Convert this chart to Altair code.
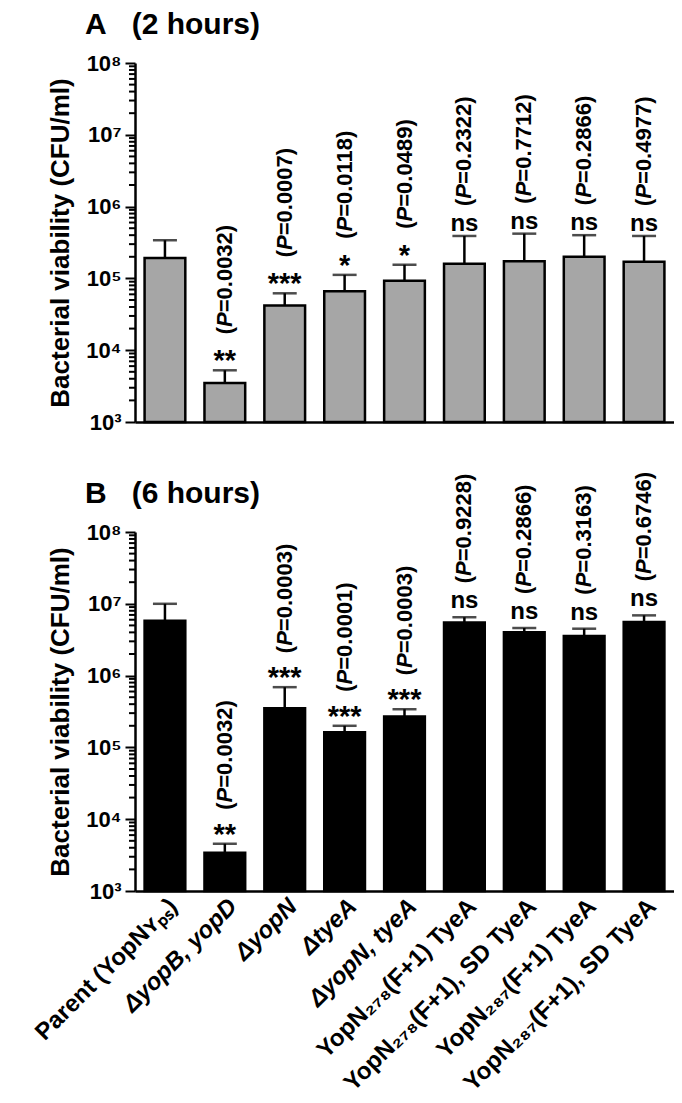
import altair as alt
import pandas as pd

strains = [
    "Parent (YopNʏₚₛ)", "ΔyopB, yopD", "ΔyopN", "ΔtyeA", "ΔyopN, tyeA",
    "YopN₂₇₈(F+1) TyeA", "YopN₂₇₈(F+1), SD TyeA",
    "YopN₂₈₇(F+1) TyeA", "YopN₂₈₇(F+1), SD TyeA",
]

mean_2h = [1.92e5, 3.5e3, 4.2e4, 6.6e4, 9.3e4, 1.6e5, 1.74e5, 2.0e5, 1.7e5]
upper_2h = [3.4e5, 5.25e3, 6.2e4, 1.12e5, 1.55e5, 3.9e5, 4.2e5, 4.0e5, 3.9e5]
sig_2h = ["", "**", "***", "*", "*", "ns", "ns", "ns", "ns"]
p_2h = ["", "(P=0.0032)", "(P=0.0007)", "(P=0.0118)", "(P=0.0489)",
        "(P=0.2322)", "(P=0.7712)", "(P=0.2866)", "(P=0.4977)"]

mean_6h = [5.8e6, 3.4e3, 3.5e5, 1.63e5, 2.7e5, 5.5e6, 4.0e6, 3.55e6, 5.6e6]
upper_6h = [1.0e7, 4.55e3, 6.9e5, 2.0e5, 3.4e5, 6.5e6, 4.6e6, 4.5e6, 6.9e6]
sig_6h = ["", "**", "***", "***", "***", "ns", "ns", "ns", "ns"]
p_6h = ["", "(P=0.0032)", "(P=0.0003)", "(P=0.0001)", "(P=0.0003)",
        "(P=0.9228)", "(P=0.2866)", "(P=0.3163)", "(P=0.6746)"]

panel_titles = ["A\u00a0\u00a0\u00a0(2 hours)", "B\u00a0\u00a0\u00a0(6 hours)"]

major_ticks = [1e3, 1e4, 1e5, 1e6, 1e7, 1e8]
minor_ticks = [m * 10 ** e for e in range(3, 8) for m in range(2, 10)]

FONT = "Liberation Sans"
SUP = "['⁰','¹','²','³','⁴','⁵','⁶','⁷','⁸','⁹']"
PFS = 22  # font size of the P-value annotations


def p_layers(base, flt, dx, xs):
    """P-value text, rotated, with an italic 'P' (three pieces)."""
    common = dict(font=FONT, fontSize=PFS, fontWeight="bold", angle=270,
                  align="left", baseline="middle", color="black")
    src = base.transform_filter(flt).transform_calculate(
        p0="substring(datum.p, 0, 1)",
        p1="substring(datum.p, 1, 2)",
        p2="substring(datum.p, 2)",
    )
    w0 = 0.333 * PFS
    w1 = 0.667 * PFS
    l0 = src.mark_text(dx=dx, **common).encode(x=xs, y="upper:Q", text="p0:N")
    l1 = src.mark_text(dx=dx + w0, fontStyle="italic", **common).encode(
        x=xs, y="upper:Q", text="p1:N")
    l2 = src.mark_text(dx=dx + w0 + w1, **common).encode(x=xs, y="upper:Q", text="p2:N")
    return [l0, l1, l2]


def panel(mean, upper, sig, pv, fill, title, show_labels, ns_dy, ns_dx, star_dx,
          anchor):
    df = pd.DataFrame({"strain": strains, "mean": mean, "upper": upper,
                       "sig": sig, "p": pv})
    xscale = alt.Scale(paddingInner=0.32, paddingOuter=0.16)
    if show_labels:
        xaxis = alt.Axis(title=None, ticks=False, domainColor="black", domainWidth=2.5,
                         labelAngle=-45, labelFont=FONT, labelFontSize=24,
                         labelFontWeight="bold", labelColor="black", labelPadding=3,
                         labelLimit=600,
                         labelFontStyle={"condition": {"test": "indexof(datum.value, 'Δ') >= 0",
                                                       "value": "italic"},
                                         "value": "normal"})
    else:
        xaxis = alt.Axis(title=None, ticks=False, labels=False, domainColor="black",
                         domainWidth=2.5)
    x = alt.X("strain:N", sort=strains, scale=xscale, axis=xaxis)
    xs = alt.X("strain:N", sort=strains)
    yscale = alt.Scale(type="log", domain=[1e3, 1e8], nice=False)
    yaxis = alt.Axis(values=major_ticks, grid=False, domainColor="black", domainWidth=2.5,
                     tickColor="black", tickWidth=2, tickSize=10,
                     labelExpr="'10' + " + SUP + "[round(log(datum.value)/LN10)]",
                     labelFont=FONT, labelFontSize=22, labelFontWeight="bold",
                     labelColor="black", labelPadding=4,
                     title="Bacterial viability (CFU/ml)", titleFont=FONT,
                     titleFontSize=26, titleFontWeight="bold", titleColor="black",
                     titlePadding=12)
    y = alt.Y("mean:Q", scale=yscale, axis=yaxis)

    base = alt.Chart(df)
    bars = base.mark_bar(fill=fill, stroke="black", strokeWidth=2.5).encode(
        x=x, y=y, y2=alt.datum(1e3))
    stem = base.mark_rule(color="black", strokeWidth=2.5).encode(
        x=xs, y="mean:Q", y2="upper:Q")
    cap = base.mark_tick(color="black", thickness=2.5, size=24, orient="horizontal").encode(
        x=xs, y="upper:Q")
    star_f = "datum.sig != 'ns' && datum.sig != ''"
    ns_f = "datum.sig == 'ns'"
    stars = base.transform_filter(star_f).mark_text(
        font=FONT, fontSize=29, fontWeight="bold", baseline="alphabetic", dy=0,
        color="black").encode(x=xs, y="upper:Q", text="sig:N")
    ns = base.transform_filter(ns_f).mark_text(
        font=FONT, fontSize=24, fontWeight="bold", baseline="alphabetic", dy=ns_dy,
        color="black").encode(x=xs, y="upper:Q", text="sig:N")
    minor = alt.Chart(pd.DataFrame({"v": minor_ticks})).mark_rule(
        color="black", strokeWidth=2).encode(
        y=alt.Y("v:Q"), x=alt.value(0), x2=alt.value(-6))
    head = alt.Chart(pd.DataFrame({"t": [title]})).mark_text(
        font=FONT, fontSize=30, fontWeight="bold", align="left", baseline="alphabetic",
        color="black").encode(x=alt.value(-50), y=alt.value(-29), text="t:N")
    layers = [bars, stem, cap, stars, ns]
    layers += p_layers(base, star_f, star_dx, xs)
    layers += p_layers(base, ns_f, ns_dx, xs)
    layers += [minor, head]
    if anchor:
        # invisible layout guide fixing the left edge of the figure
        layers.append(alt.Chart(pd.DataFrame({"k": [0]})).mark_rule(
            opacity=0, strokeWidth=0).encode(
            x=alt.value(-122), x2=alt.value(-121), y=alt.value(0)))

    return alt.layer(*layers).properties(width=539, height=359)


a = panel(mean_2h, upper_2h, sig_2h, p_2h, "#a6a6a6", panel_titles[0],
          False, -5, 30, 36, True)
b = panel(mean_6h, upper_6h, sig_6h, p_6h, "black", panel_titles[1],
          True, -9, 34, 34, False)

chart = alt.vconcat(a, b, spacing=110, bounds="flush").properties(
    padding={"left": 5, "top": 2, "right": 0, "bottom": 0},
).configure_view(stroke=None)

chart.save("out.html", embed_options={"renderer": "svg", "actions": False})
